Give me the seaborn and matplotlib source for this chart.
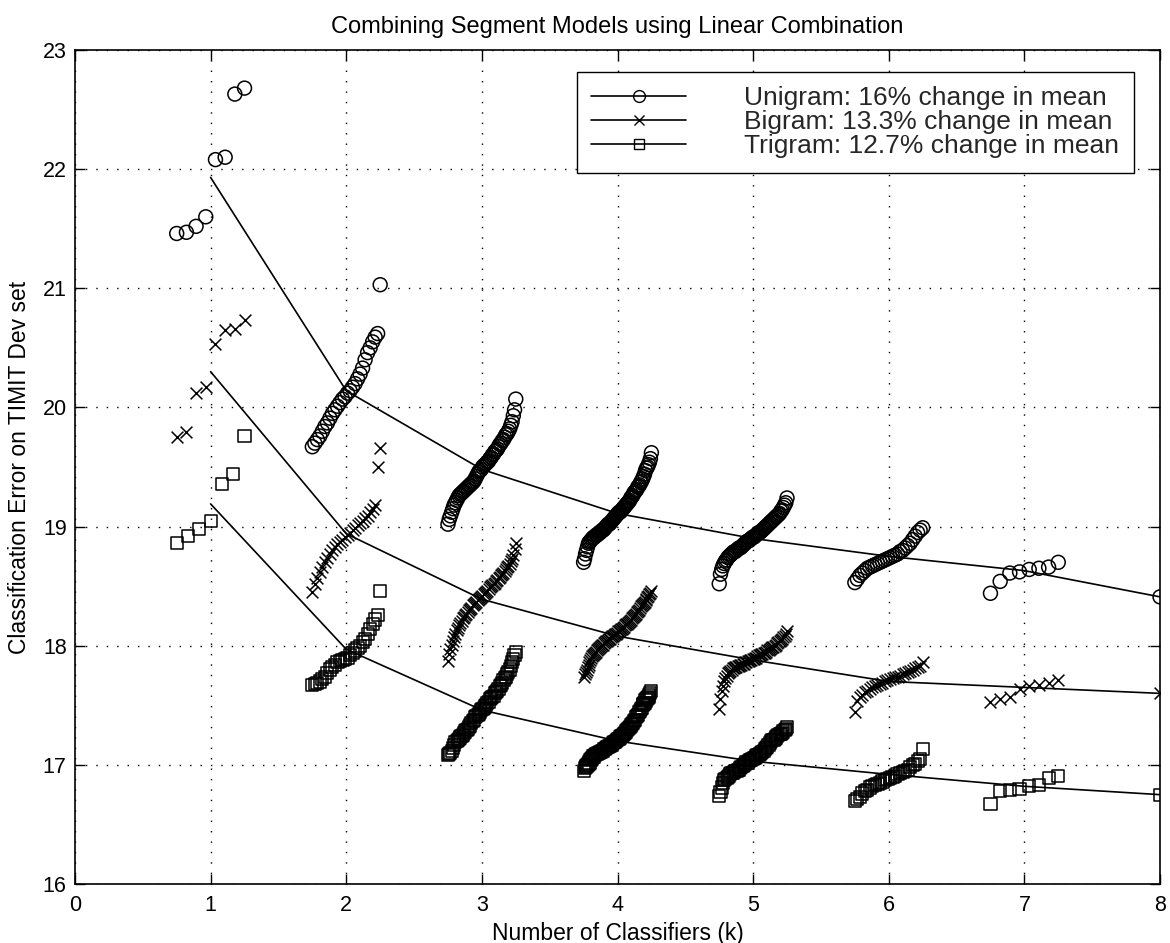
import numpy as np
import pandas as pd
import matplotlib
matplotlib.use("Agg")
import matplotlib.pyplot as plt
from matplotlib.lines import Line2D
import seaborn as sns

# ---------------- data ----------------
k_values = [1, 2, 3, 4, 5, 6, 7, 8]

uni_k1 = [21.46, 21.47, 21.52, 21.60, 22.08, 22.10, 22.63, 22.68]
uni_k2 = [19.67, 19.70, 19.73, 19.76, 19.80, 19.84, 19.87, 19.91, 19.95, 19.98,
          20.01, 20.04, 20.07, 20.09, 20.12, 20.14, 20.17, 20.20, 20.24, 20.28,
          20.33, 20.40, 20.46, 20.50, 20.55, 20.59, 20.62, 21.03]
uni_k3 = [19.02, 19.06, 19.09, 19.12, 19.15, 19.18, 19.20, 19.22, 19.24, 19.26,
          19.27, 19.28, 19.29, 19.30, 19.31, 19.32, 19.33, 19.34, 19.35, 19.36,
          19.37, 19.38, 19.40, 19.42, 19.44, 19.46, 19.47, 19.48, 19.50, 19.51,
          19.52, 19.53, 19.54, 19.55, 19.57, 19.58, 19.60, 19.61, 19.63, 19.64,
          19.65, 19.67, 19.69, 19.70, 19.72, 19.73, 19.75, 19.77, 19.78, 19.80,
          19.82, 19.85, 19.88, 19.93, 19.98, 20.07]
uni_k4 = [18.70, 18.73, 18.77, 18.80, 18.83, 18.86, 18.87, 18.88, 18.89, 18.90,
          18.91, 18.91, 18.92, 18.93, 18.93, 18.94, 18.95, 18.95, 18.96, 18.97,
          18.97, 18.98, 18.99, 19.00, 19.01, 19.02, 19.02, 19.03, 19.04, 19.05,
          19.06, 19.07, 19.08, 19.09, 19.10, 19.11, 19.12, 19.12, 19.13, 19.14,
          19.15, 19.16, 19.17, 19.18, 19.19, 19.20, 19.21, 19.22, 19.24, 19.25,
          19.26, 19.28, 19.29, 19.30, 19.31, 19.33, 19.34, 19.35, 19.37, 19.38,
          19.40, 19.42, 19.44, 19.47, 19.49, 19.50, 19.52, 19.54, 19.57, 19.62]
uni_k5 = [18.52, 18.60, 18.64, 18.67, 18.69, 18.71, 18.72, 18.74, 18.75, 18.76,
          18.77, 18.78, 18.79, 18.79, 18.80, 18.81, 18.82, 18.82, 18.83, 18.84,
          18.85, 18.86, 18.87, 18.88, 18.88, 18.89, 18.90, 18.91, 18.91, 18.92,
          18.93, 18.94, 18.95, 18.95, 18.96, 18.97, 18.98, 18.99, 19.00, 19.01,
          19.02, 19.03, 19.04, 19.05, 19.06, 19.07, 19.08, 19.09, 19.10, 19.11,
          19.13, 19.14, 19.16, 19.18, 19.20, 19.24]
uni_k6 = [18.53, 18.56, 18.59, 18.61, 18.63, 18.65, 18.66, 18.67, 18.68, 18.69,
          18.70, 18.71, 18.72, 18.73, 18.74, 18.75, 18.76, 18.77, 18.79, 18.80,
          18.82, 18.84, 18.86, 18.89, 18.92, 18.95, 18.97, 18.99]
uni_k7 = [18.44, 18.54, 18.61, 18.62, 18.64, 18.65, 18.66, 18.70]
uni_k8 = [18.41]

bi_k1 = [19.75, 19.79, 20.12, 20.17, 20.53, 20.65, 20.66, 20.73]
bi_k2 = [18.45, 18.52, 18.57, 18.62, 18.66, 18.70, 18.74, 18.77, 18.80, 18.83,
         18.85, 18.87, 18.89, 18.91, 18.93, 18.95, 18.97, 18.99, 19.01, 19.03,
         19.05, 19.07, 19.09, 19.12, 19.15, 19.18, 19.50, 19.66]
bi_k3 = [17.87, 17.93, 17.97, 18.01, 18.04, 18.07, 18.10, 18.13, 18.15, 18.17,
         18.19, 18.21, 18.23, 18.24, 18.26, 18.27, 18.28, 18.30, 18.31, 18.32,
         18.34, 18.35, 18.36, 18.37, 18.38, 18.39, 18.40, 18.41, 18.42, 18.43,
         18.44, 18.45, 18.46, 18.48, 18.49, 18.50, 18.51, 18.52, 18.53, 18.54,
         18.55, 18.57, 18.58, 18.59, 18.60, 18.61, 18.63, 18.64, 18.66, 18.67,
         18.69, 18.71, 18.73, 18.76, 18.81, 18.86]
bi_k4 = [17.74, 17.76, 17.78, 17.80, 17.82, 17.84, 17.86, 17.88, 17.90, 17.91,
         17.92, 17.93, 17.94, 17.95, 17.96, 17.97, 17.98, 17.99, 18.00, 18.01,
         18.01, 18.02, 18.03, 18.04, 18.04, 18.05, 18.06, 18.06, 18.07, 18.08,
         18.08, 18.09, 18.10, 18.10, 18.11, 18.12, 18.12, 18.13, 18.14, 18.14,
         18.15, 18.16, 18.17, 18.18, 18.18, 18.19, 18.20, 18.21, 18.22, 18.23,
         18.24, 18.25, 18.26, 18.27, 18.28, 18.29, 18.30, 18.32, 18.33, 18.34,
         18.35, 18.36, 18.37, 18.38, 18.39, 18.41, 18.42, 18.43, 18.44, 18.46]
bi_k5 = [17.47, 17.55, 17.62, 17.66, 17.70, 17.73, 17.75, 17.77, 17.78, 17.79,
         17.80, 17.81, 17.81, 17.82, 17.82, 17.83, 17.83, 17.84, 17.84, 17.85,
         17.85, 17.86, 17.86, 17.87, 17.87, 17.88, 17.88, 17.89, 17.89, 17.90,
         17.90, 17.91, 17.92, 17.92, 17.93, 17.93, 17.94, 17.94, 17.95, 17.96,
         17.96, 17.97, 17.98, 17.99, 17.99, 18.00, 18.01, 18.02, 18.03, 18.04,
         18.05, 18.06, 18.07, 18.08, 18.10, 18.12]
bi_k6 = [17.44, 17.54, 17.57, 17.59, 17.61, 17.62, 17.64, 17.65, 17.66, 17.67,
         17.68, 17.69, 17.70, 17.71, 17.72, 17.73, 17.74, 17.74, 17.75, 17.76,
         17.77, 17.78, 17.79, 17.80, 17.81, 17.82, 17.83, 17.86]
bi_k7 = [17.53, 17.55, 17.57, 17.64, 17.66, 17.67, 17.69, 17.71]
bi_k8 = [17.60]

tri_k1 = [18.86, 18.92, 18.98, 19.05, 19.36, 19.44, 19.76]
tri_k2 = [17.67, 17.68, 17.69, 17.70, 17.72, 17.74, 17.77, 17.80, 17.82, 17.84,
          17.86, 17.87, 17.88, 17.89, 17.90, 17.92, 17.94, 17.96, 17.98, 18.00,
          18.03, 18.06, 18.10, 18.14, 18.18, 18.22, 18.26, 18.46]
tri_k3 = [17.08, 17.09, 17.10, 17.12, 17.14, 17.17, 17.19, 17.20, 17.21, 17.22,
          17.23, 17.24, 17.25, 17.27, 17.28, 17.29, 17.30, 17.32, 17.33, 17.35,
          17.37, 17.38, 17.40, 17.41, 17.42, 17.43, 17.44, 17.46, 17.47, 17.48,
          17.49, 17.50, 17.52, 17.53, 17.55, 17.56, 17.57, 17.58, 17.60, 17.61,
          17.62, 17.64, 17.66, 17.67, 17.69, 17.71, 17.73, 17.74, 17.76, 17.78,
          17.80, 17.83, 17.86, 17.89, 17.92, 17.95]
tri_k4 = [16.95, 16.97, 16.98, 16.99, 17.00, 17.01, 17.02, 17.04, 17.05, 17.06,
          17.07, 17.07, 17.08, 17.09, 17.09, 17.10, 17.10, 17.11, 17.11, 17.12,
          17.12, 17.13, 17.13, 17.14, 17.15, 17.15, 17.16, 17.16, 17.17, 17.17,
          17.18, 17.19, 17.19, 17.20, 17.21, 17.22, 17.22, 17.23, 17.24, 17.24,
          17.25, 17.26, 17.27, 17.28, 17.29, 17.30, 17.31, 17.32, 17.33, 17.34,
          17.35, 17.37, 17.38, 17.40, 17.41, 17.42, 17.44, 17.45, 17.47, 17.48,
          17.50, 17.51, 17.52, 17.54, 17.55, 17.56, 17.57, 17.59, 17.60, 17.62]
tri_k5 = [16.74, 16.77, 16.81, 16.85, 16.87, 16.88, 16.89, 16.90, 16.91, 16.92,
          16.93, 16.93, 16.94, 16.95, 16.95, 16.96, 16.96, 16.97, 16.98, 16.99,
          17.00, 17.01, 17.02, 17.02, 17.03, 17.04, 17.04, 17.05, 17.06, 17.06,
          17.07, 17.08, 17.08, 17.09, 17.10, 17.11, 17.12, 17.13, 17.14, 17.15,
          17.17, 17.18, 17.20, 17.21, 17.21, 17.22, 17.23, 17.24, 17.25, 17.26,
          17.26, 17.27, 17.28, 17.29, 17.30, 17.32]
tri_k6 = [16.70, 16.71, 16.73, 16.76, 16.78, 16.79, 16.81, 16.82, 16.83, 16.84,
          16.85, 16.86, 16.87, 16.88, 16.89, 16.90, 16.91, 16.92, 16.93, 16.94,
          16.95, 16.96, 16.98, 17.00, 17.01, 17.03, 17.05, 17.13]
tri_k7 = [16.67, 16.78, 16.79, 16.80, 16.82, 16.83, 16.89, 16.91]
tri_k8 = [16.75]

# mean curves (solid lines)
uni_mean = [21.93, 20.14, 19.48, 19.11, 18.90, 18.75, 18.63, 18.41]
bi_mean = [20.30, 18.94, 18.39, 18.08, 17.88, 17.70, 17.65, 17.60]
tri_mean = [19.19, 17.97, 17.46, 17.20, 17.03, 16.92, 16.82, 16.75]

series_names = ["Unigram", "Bigram", "Trigram"]
legend_labels = ["Unigram: 16% change in mean",
                 "Bigram: 13.3% change in mean",
                 "Trigram: 12.7% change in mean"]
x_ticks = [0, 1, 2, 3, 4, 5, 6, 7, 8]
y_ticks = [16, 17, 18, 19, 20, 21, 22, 23]

title_text = "Combining Segment Models using Linear Combination"
x_label = "Number of Classifiers (k)"
y_label = "Classification Error on TIMIT Dev set"

# ---------------- build tables ----------------
clusters = {
    "Unigram": [uni_k1, uni_k2, uni_k3, uni_k4, uni_k5, uni_k6, uni_k7, uni_k8],
    "Bigram": [bi_k1, bi_k2, bi_k3, bi_k4, bi_k5, bi_k6, bi_k7, bi_k8],
    "Trigram": [tri_k1, tri_k2, tri_k3, tri_k4, tri_k5, tri_k6, tri_k7, tri_k8],
}
means = {"Unigram": uni_mean, "Bigram": bi_mean, "Trigram": tri_mean}

half_width = 0.25
rows = []
for name in series_names:
    for k, vals in zip(k_values, clusters[name]):
        n = len(vals)
        xs = np.linspace(k - half_width, k + half_width, n) if n > 1 else np.array([float(k)])
        for xv, yv in zip(xs, vals):
            rows.append({"model": name, "k": xv, "error": yv})
points = pd.DataFrame(rows)
mean_df = pd.DataFrame([{"model": n, "k": k, "error": m}
                        for n in series_names for k, m in zip(k_values, means[n])])

# ---------------- style ----------------
sns.set_theme(style="white")
plt.rcParams['font.family'] = ['Liberation Sans', 'DejaVu Sans']
plt.rcParams['axes.unicode_minus'] = False

fig = plt.figure(figsize=(11.7, 9.43), dpi=100)
ax = fig.add_axes([75 / 1170, 1 - 884 / 943, 1085 / 1170, 834 / 943])

marker_map = {"Unigram": "o", "Bigram": "x", "Trigram": "s"}
size_map = {"Unigram": 100, "Bigram": 72, "Trigram": 76}

for name in series_names:
    sub = points[points.model == name]
    if marker_map[name] == "x":
        sns.scatterplot(data=sub, x="k", y="error", marker="x", s=size_map[name],
                        color="black", linewidth=1.1, ax=ax, legend=False, zorder=3)
    else:
        sns.scatterplot(data=sub, x="k", y="error", marker=marker_map[name],
                        s=size_map[name], facecolor="none", edgecolor="black",
                        linewidth=1.1, ax=ax, legend=False, zorder=3)
    sub_m = mean_df[mean_df.model == name]
    sns.lineplot(data=sub_m, x="k", y="error", color="black", linewidth=1.2,
                 ax=ax, legend=False, zorder=2)

ax.set_xlim(0, 8)
ax.set_ylim(16, 23)
ax.set_xticks(x_ticks)
ax.set_yticks(y_ticks)
ax.set_xticklabels([str(t) for t in x_ticks])
ax.set_yticklabels([str(t) for t in y_ticks])

ax.grid(True, color="black", linestyle=(0, (1, 6.5)), linewidth=1.0)
ax.set_axisbelow(True)
for sp in ax.spines.values():
    sp.set_color("black")
    sp.set_linewidth(1.2)
    sp.set_visible(True)

ax.tick_params(axis="both", which="major", direction="in", length=7, width=1,
               color="black", labelsize=15.5, labelcolor="black",
               top=True, right=True, bottom=True, left=True)
ax.tick_params(axis="x", pad=8)
ax.tick_params(axis="y", pad=6)

ax.set_xlabel(x_label, fontsize=16.5, color="black", labelpad=4)
ax.set_ylabel(y_label, fontsize=16.5, color="black", labelpad=8)
ax.set_title(title_text, fontsize=17, color="black", pad=12)

handles = [
    Line2D([0], [0], color="black", lw=1.2, marker="o", markersize=8.5,
           markerfacecolor="none", markeredgecolor="black"),
    Line2D([0], [0], color="black", lw=1.2, marker="x", markersize=6.5,
           markeredgecolor="black"),
    Line2D([0], [0], color="black", lw=1.2, marker="s", markersize=6.5,
           markerfacecolor="none", markeredgecolor="black"),
]
leg = ax.legend(handles, legend_labels, loc="upper right",
                bbox_to_anchor=(0.976, 0.974), borderaxespad=0,
                fontsize=19, handlelength=3.6, handletextpad=2.2,
                labelspacing=0.0, borderpad=0.55, frameon=True,
                fancybox=False, framealpha=1, edgecolor="black", numpoints=1)
leg.get_frame().set_linewidth(1.0)
leg.set_zorder(5)

fig.savefig("out.png", dpi=100, facecolor="white")
